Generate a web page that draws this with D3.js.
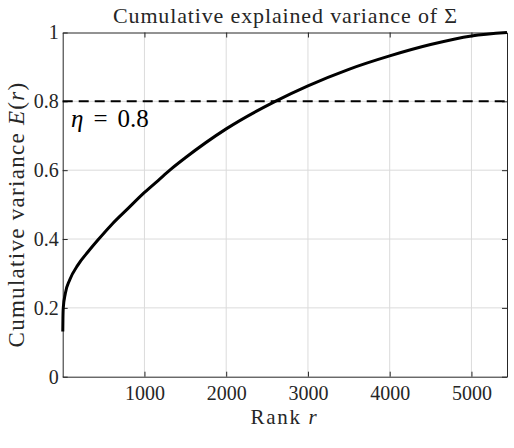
<!DOCTYPE html>
<html>
<head>
<meta charset="utf-8">
<script src="https://cdn.jsdelivr.net/npm/d3@7"></script>
<style>
html,body{margin:0;padding:0;background:#fff;}
svg{display:block;}
svg text{font-family:"Liberation Serif",serif;fill:#262626;}
</style>
</head>
<body>
<svg id="chart" width="514" height="448"></svg>
<script>
// Data
const rank = [1, 3, 7, 32, 85, 187, 310, 441, 595, 800, 1004, 1167, 1314, 1500, 2000, 2600, 3000, 3500, 4000, 4500, 5000, 5435];
const variance = [0.131, 0.17, 0.20, 0.242, 0.281, 0.325, 0.363, 0.40, 0.441, 0.489, 0.536, 0.570, 0.601, 0.636, 0.72, 0.80, 0.845, 0.893, 0.932, 0.965, 0.99, 1.0];
const xTicks = [1000, 2000, 3000, 4000, 5000];
const yTicks = [0, 0.2, 0.4, 0.6, 0.8, 1];
const yTickLabels = ["0", "0.2", "0.4", "0.6", "0.8", "1"];
const threshold = 0.8;
const xMax = 5435;

const svg = d3.select("#chart");
const L = 62.7, R = 507, T = 32.5, B = 376.7;
const x = d3.scaleLinear().domain([0, xMax]).range([L, R]);
const y = d3.scaleLinear().domain([0, 1]).range([B, T]);
const axisColor = "#262626";
const gridColor = "#dbdbdb";
const FONT = '"Liberation Serif", serif';

// grid
const g = svg.append("g");
g.selectAll(".vg").data(xTicks).enter().append("line")
  .attr("x1", d => x(d)).attr("x2", d => x(d)).attr("y1", T).attr("y2", B)
  .attr("stroke", gridColor).attr("stroke-width", 1);
g.selectAll(".hg").data(yTicks.filter(d => d > 0 && d < 1)).enter().append("line")
  .attr("y1", d => y(d)).attr("y2", d => y(d)).attr("x1", L).attr("x2", R)
  .attr("stroke", gridColor).attr("stroke-width", 1);

// axes
const xAxisB = d3.axisBottom(x).tickValues(xTicks).tickSizeInner(-5).tickSizeOuter(0).tickPadding(9).tickFormat(d3.format("d"));
const xAxisT = d3.axisTop(x).tickValues(xTicks).tickSizeInner(-5).tickSizeOuter(0).tickFormat("");
const yAxisL = d3.axisLeft(y).tickValues(yTicks).tickSizeInner(-5).tickSizeOuter(0).tickPadding(4).tickFormat((d, i) => yTickLabels[i]);
const yAxisR = d3.axisRight(y).tickValues(yTicks).tickSizeInner(-5).tickSizeOuter(0).tickFormat("");

function style(sel) {
  sel.attr("font-family", FONT);
  sel.select(".domain").attr("stroke", axisColor).attr("stroke-width", 1);
  sel.selectAll(".tick line").attr("stroke", axisColor).attr("stroke-width", 1);
  sel.selectAll(".tick text").attr("fill", axisColor).style("font-size", "20px")
    .style("font-family", FONT);
}
svg.append("g").attr("transform", `translate(0,${B})`).call(xAxisB).call(style);
svg.append("g").attr("transform", `translate(0,${T})`).call(xAxisT).call(style);
svg.append("g").attr("transform", `translate(${L},0)`).call(yAxisL).call(style);
svg.append("g").attr("transform", `translate(${R},0)`).call(yAxisR).call(style);

// threshold line
svg.append("line")
  .attr("x1", x(0)).attr("x2", x(xMax)).attr("y1", y(threshold)).attr("y2", y(threshold))
  .attr("stroke", "#000").attr("stroke-width", 2).attr("stroke-dasharray", "10,6");

// curve
const pts = rank.map((r, i) => [r, variance[i]]);
const line = d3.line().x(d => x(d[0])).y(d => y(d[1])).curve(d3.curveMonotoneX);
svg.append("path").datum(pts).attr("d", line)
  .attr("fill", "none").attr("stroke", "#000").attr("stroke-width", 3).attr("stroke-linejoin", "round");

// widen serif text to resemble Computer Modern proportions
function fitWidth(sel, target) {
  const node = sel.node();
  const w = node.getComputedTextLength();
  const n = node.textContent.length;
  if (n > 1 && target > w) sel.style("letter-spacing", ((target - w) / n) + "px");
}

// texts
const title = svg.append("text").attr("x", 285.5).attr("y", 22.7).attr("text-anchor", "middle")
  .style("font-size", "22px").text("Cumulative explained variance of Σ");
fitWidth(title, 345);

const xl = svg.append("text").attr("x", 284.5).attr("y", 424).attr("text-anchor", "middle").style("font-size", "21px");
xl.append("tspan").text("Rank ");
xl.append("tspan").style("font-style", "italic").text("r");
fitWidth(xl, 68);

const yl = svg.append("text").attr("transform", "translate(23.5,214.5) rotate(-90)").attr("text-anchor", "middle").style("font-size", "23px");
yl.append("tspan").text("Cumulative variance ");
yl.append("tspan").style("font-style", "italic").text("E");
yl.append("tspan").text("(");
yl.append("tspan").style("font-style", "italic").text("r");
yl.append("tspan").text(")");
fitWidth(yl, 266);

const et = svg.append("text").attr("x", 71).attr("y", 127.3).style("font-size", "25px").style("fill", "#000");
et.append("tspan").style("font-style", "italic").text("η");
et.append("tspan").attr("dx", 10).text("=");
et.append("tspan").attr("dx", 10).text("0.8");
</script>
</body>
</html>
